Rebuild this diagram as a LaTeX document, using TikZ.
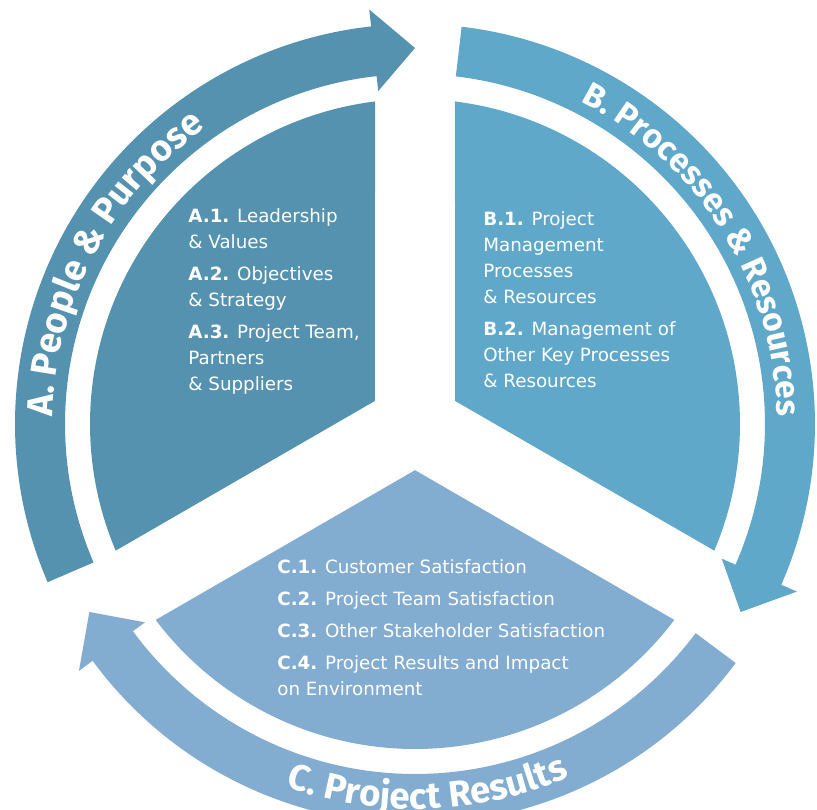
\documentclass[tikz,border=0pt]{standalone}
\usepackage{fontspec}
\setmainfont{DejaVu Sans}
\newfontfamily\titlefont{Fira Sans}
\usetikzlibrary{decorations.text}
\definecolor{colA}{RGB}{84,146,176}
\definecolor{colB}{RGB}{96,168,202}
\definecolor{colC}{RGB}{131,172,209}

\begin{document}
\begin{tikzpicture}[scale=2,
  items/.style={anchor=north west,align=left,text=white,inner sep=0pt,
    font=\fontsize{10.4}{14.8}\selectfont},
  title/.style={decorate,decoration={text along path,text align=center,text color=white}}]
  \useasboundingbox (-4.15,-3.86) rectangle (4.02,4.24);
  \clip (-4.15,-3.86) rectangle (4.02,4.24);

  \foreach \t/\c in {90/colA,-30/colB,-150/colC}{
    \fill[\c] (\t+60:0.462) -- (\t+7.07:3.25)
      arc[start angle=\t+7.07,end angle=\t+112.93,radius=3.25] -- cycle;
    \fill[\c] (\t+113.3:3.5) arc[start angle=\t+113.3,end angle=\t+6.3,radius=3.5]
      -- (\t+6.3:3.35) -- (\t:3.76) -- (\t+6.3:4.17) -- (\t+6.3:4.0)
      arc[start angle=\t+6.3,end angle=\t+113.3,radius=4.0] -- cycle;
  }

  \path[title,decoration={text={|\titlefont\bfseries\fontsize{20.8}{20.8}\selectfont|A. People {\&} Purpose}}]
    (200:3.625) arc[start angle=200,end angle=104,radius=3.625];
  \path[title,decoration={text={|\titlefont\bfseries\fontsize{19}{19}\selectfont|B. Processes {\&} Resources}}]
    (84:3.625) arc[start angle=84,end angle=-20,radius=3.625];
  \path[title,decoration={text={|\titlefont\bfseries\fontsize{20.8}{20.8}\selectfont|C. Project Results}}]
    (222:3.85) arc[start angle=222,end angle=322,radius=3.85];

  \node[items] (txtA) at (-2.27,2.155) {\textbf{A.1.} Leadership\\ \& Values\\[3.4pt]
    \textbf{A.2.} Objectives\\ \& Strategy\\[3.4pt]
    \textbf{A.3.} Project Team,\\ Partners\\ \& Suppliers};
  \node[items] (txtB) at (0.68,2.125) {\textbf{B.1.} Project\\ Management\\ Processes\\ \& Resources\\[3.4pt]
    \textbf{B.2.} Management of\\ Other Key Processes\\ \& Resources};
  \node[items] (txtC) at (-1.38,-1.355) {\textbf{C.1.} Customer Satisfaction\\[3.4pt]
    \textbf{C.2.} Project Team Satisfaction\\[3.4pt]
    \textbf{C.3.} Other Stakeholder Satisfaction\\[3.4pt]
    \textbf{C.4.} Project Results and Impact\\ on Environment};
\end{tikzpicture}
\end{document}
